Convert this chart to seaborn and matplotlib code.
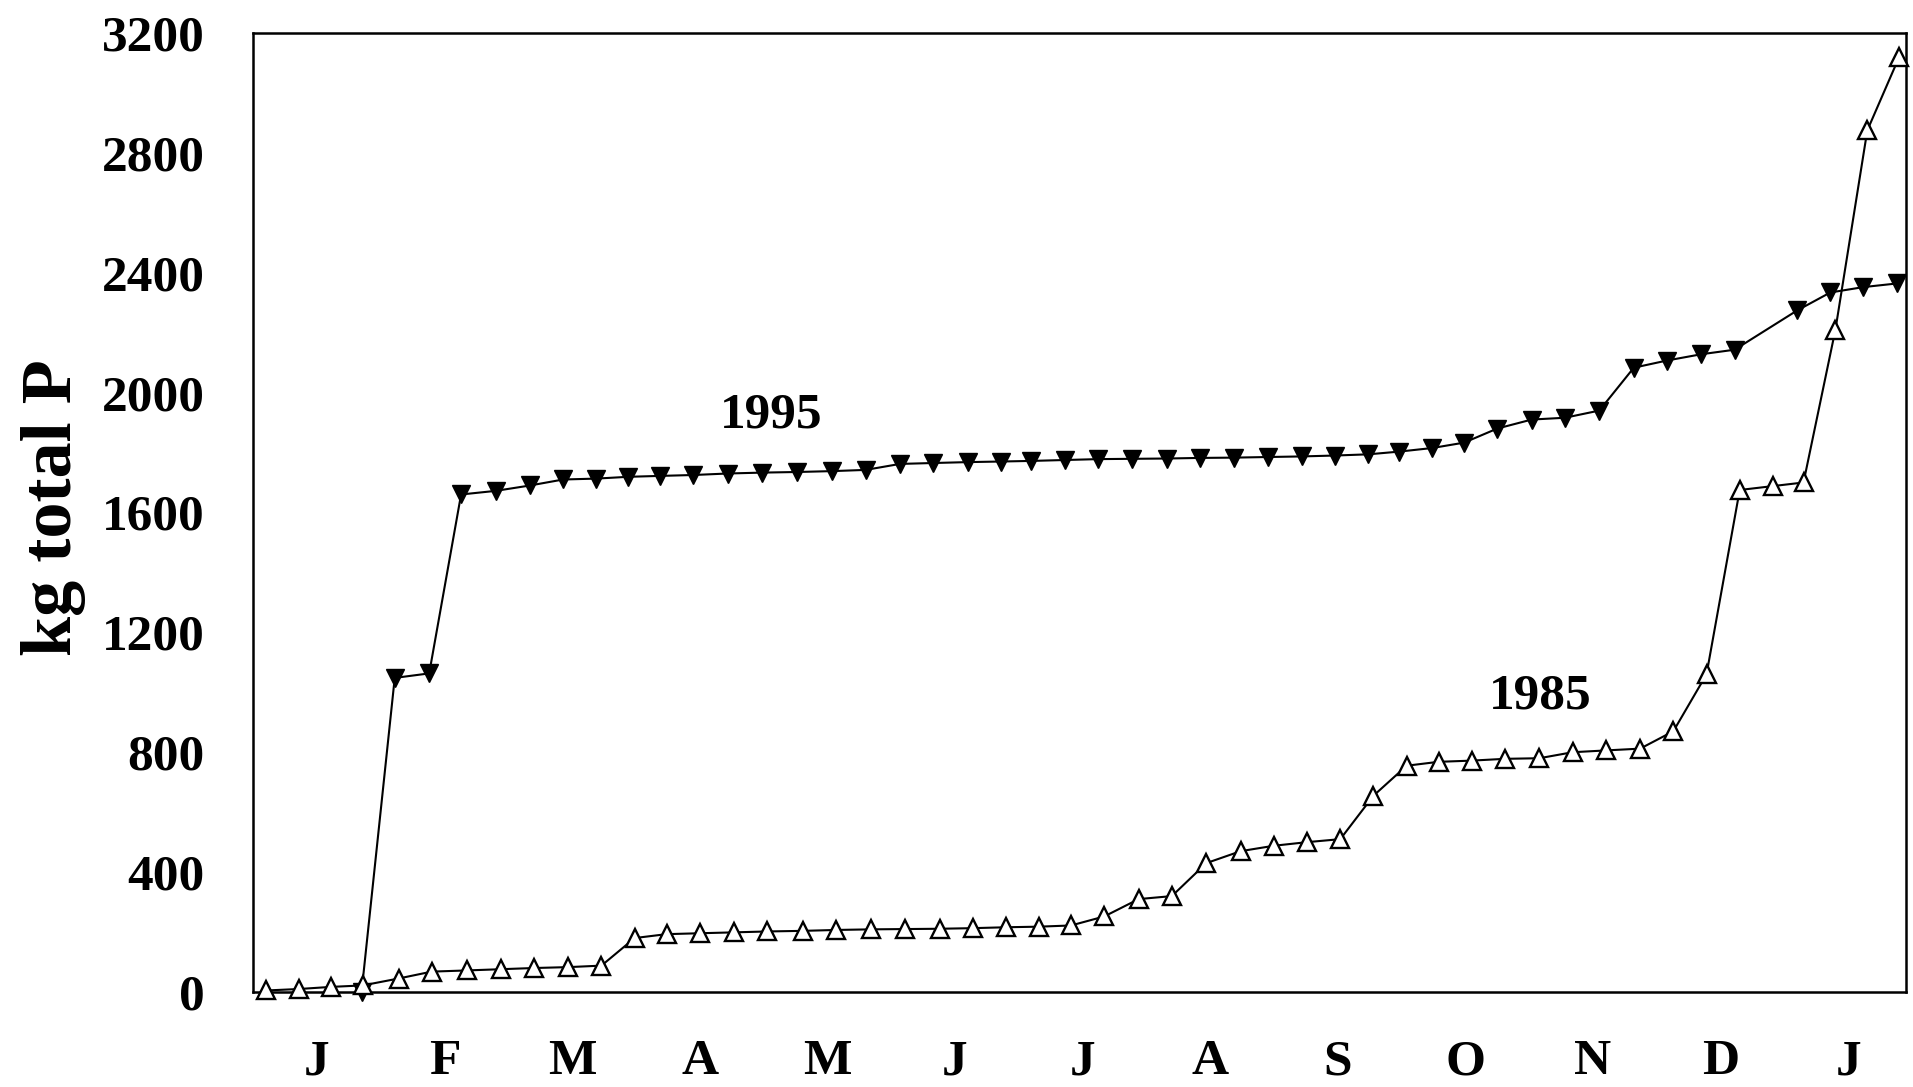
import matplotlib
matplotlib.use("Agg")
import matplotlib.pyplot as plt
import pandas as pd
import seaborn as sns

# ---- data (x in months from 1 Jan, y in kg total P) ----
month_labels = ["J", "F", "M", "A", "M", "J", "J", "A", "S", "O", "N", "D", "J"]
y_ticks = [0, 400, 800, 1200, 1600, 2000, 2400, 2800, 3200]

x_1995 = [0.85, 1.11, 1.38, 1.63, 1.90, 2.17, 2.43, 2.69, 2.94, 3.19, 3.45,
          3.72, 3.99, 4.26, 4.54, 4.80, 5.07, 5.33, 5.60, 5.86, 6.10, 6.36,
          6.62, 6.89, 7.16, 7.42, 7.69, 7.95, 8.22, 8.48, 8.74, 8.98, 9.24,
          9.49, 9.75, 10.02, 10.28, 10.55, 10.82, 11.08, 11.35, 11.61,
          12.10, 12.36, 12.62, 12.88]
y_1995 = [0, 1048, 1063, 1660, 1672, 1690, 1710, 1713, 1719, 1722, 1725,
          1730, 1733, 1735, 1738, 1742, 1762, 1765, 1768, 1770, 1772, 1775,
          1778, 1779, 1780, 1782, 1783, 1785, 1787, 1790, 1794, 1803, 1815,
          1833, 1880, 1910, 1916, 1940, 2083, 2107, 2128, 2143,
          2274, 2334, 2352, 2364]

x_1985 = [0.10, 0.36, 0.61, 0.86, 1.14, 1.40, 1.68, 1.94, 2.20, 2.47, 2.73,
          2.99, 3.24, 3.50, 3.77, 4.03, 4.31, 4.57, 4.84, 5.11, 5.38, 5.64,
          5.90, 6.16, 6.41, 6.67, 6.94, 7.20, 7.47, 7.74, 8.00, 8.26, 8.52,
          8.78, 9.04, 9.29, 9.55, 9.81, 10.08, 10.34, 10.60, 10.87, 11.13,
          11.39, 11.65, 11.91, 12.15, 12.40, 12.65, 12.90]
y_1985 = [5, 10, 17, 22, 45, 68, 72, 76, 80, 83, 88,
          180, 193, 196, 199, 202, 204, 207, 209, 210, 211, 213,
          216, 218, 222, 252, 310, 320, 430, 470, 488, 500, 510,
          655, 755, 768, 772, 778, 780, 800, 806, 812, 870,
          1060, 1675, 1688, 1700, 2210, 2875, 3120]

label_1995 = ("1995", 4.06, 1922)
label_1985 = ("1985", 10.09, 985)

# ---- style ----
sns.set_theme(style="white")
plt.rcParams["font.family"] = ["Liberation Serif", "DejaVu Serif"]
plt.rcParams["font.weight"] = "bold"
plt.rcParams["text.color"] = "black"
plt.rcParams["axes.labelcolor"] = "black"
plt.rcParams["xtick.color"] = "black"
plt.rcParams["ytick.color"] = "black"
plt.rcParams["axes.edgecolor"] = "black"

fig = plt.figure(figsize=(19.13, 10.87), dpi=100)
ax = fig.add_axes([0.1323, 0.0874, 0.8641, 0.8823])

df95 = pd.DataFrame({"month": x_1995, "P": y_1995})
df85 = pd.DataFrame({"month": x_1985, "P": y_1985})

sns.lineplot(data=df95, x="month", y="P", ax=ax, color="black", linewidth=1.5,
             marker="v", markersize=13.5, markerfacecolor="black",
             markeredgecolor="black", markeredgewidth=1.0,
             estimator=None, sort=False, clip_on=False, zorder=3)
sns.lineplot(data=df85, x="month", y="P", ax=ax, color="black", linewidth=1.5,
             marker="^", markersize=13.5, markerfacecolor="white",
             markeredgecolor="black", markeredgewidth=1.7,
             estimator=None, sort=False, clip_on=False, zorder=4)

ax.set_xlim(0, 12.954)
ax.set_ylim(0, 3200)

# month boundaries as major ticks, month letters on minor ticks
ax.set_xticks(list(range(0, 13)))
ax.set_xticklabels([""] * 13)
ax.set_xticks([k + 0.5 for k in range(13)], minor=True)
ax.set_xticklabels(month_labels, minor=True, fontsize=37, fontweight="bold",
                   color="black")
ax.tick_params(axis="x", which="major", direction="out", length=17,
               width=1.5, color="black")
ax.tick_params(axis="x", which="minor", length=0, pad=34)

ax.set_yticks(y_ticks)
ax.set_yticklabels([str(v) for v in y_ticks], fontsize=37, fontweight="bold",
                   color="black")
ax.tick_params(axis="y", which="major", direction="out", length=9,
               width=1.5, color="black", pad=26)

for sp in ax.spines.values():
    sp.set_visible(True)
    sp.set_color("black")
    sp.set_linewidth(1.8)

ax.set_xlabel("")
ax.set_ylabel("kg total P", fontsize=52, fontweight="bold", color="black",
              ha="center", va="center")
ax.yaxis.set_label_coords(-0.1210, 0.505)

for txt, xx, yy in (label_1995, label_1985):
    ax.text(xx, yy, txt, fontsize=37, fontweight="bold", ha="center",
            va="center", color="black")

fig.savefig("out.png", dpi=100)
